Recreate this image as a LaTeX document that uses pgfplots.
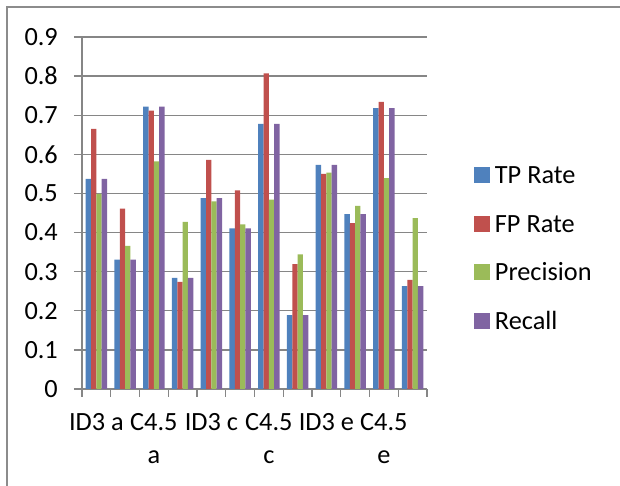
\documentclass[border=0pt]{standalone}
\usepackage{fontspec}
\setmainfont{Carlito}
\usepackage{pgfplots}
\pgfplotsset{compat=1.18}
\usepackage{pgfplotstable}
\definecolor{cTP}{HTML}{4F81BD}
\definecolor{cFP}{HTML}{C0504D}
\definecolor{cPR}{HTML}{9BBB59}
\definecolor{cRC}{HTML}{8064A2}
\definecolor{gridgray}{RGB}{134,134,134}
\definecolor{framegray}{RGB}{140,140,140}
\pgfplotsset{sqlegend/.style={legend image code/.code={\fill[##1] (0bp,-8bp) rectangle (16bp,8bp);}}}
\pgfplotstableread{
g tp fp pr rc
0 0.537 0.665 0.499 0.537
1 0.331 0.461 0.366 0.331
2 0.722 0.712 0.582 0.722
3 0.284 0.274 0.427 0.284
4 0.488 0.586 0.480 0.488
5 0.411 0.508 0.421 0.411
6 0.678 0.807 0.484 0.678
7 0.189 0.319 0.344 0.189
8 0.573 0.550 0.553 0.573
9 0.447 0.424 0.468 0.447
10 0.718 0.734 0.539 0.718
11 0.263 0.279 0.437 0.263
}\datatable
\begin{document}
\fontsize{26.3bp}{33bp}\selectfont
\begin{tikzpicture}
\useasboundingbox (0bp,0bp) rectangle (620bp,486bp);
\draw[framegray, line width=1.3bp] (7bp,0bp) -- (7bp,479bp) -- (620bp,479bp);
\begin{axis}[
  at={(82bp,97bp)}, anchor=south west,
  width=345bp, height=352bp, scale only axis,
  ybar=0pt, bar width=5.33bp,
  xmin=-0.5, xmax=11.5, ymin=0, ymax=0.9,
  enlargelimits=false,
  axis lines*=left,
  axis line style={gridgray, line width=1.3bp, -},
  ymajorgrids=true,
  grid style={gridgray, line width=1.3bp},
  tick align=outside,
  major tick length=8bp,
  tick style={gridgray, line width=1.3bp},
  ytick={0,0.1,0.2,0.3,0.4,0.5,0.6,0.7,0.8,0.9},
  yticklabels={0,0.1,0.2,0.3,0.4,0.5,0.6,0.7,0.8,0.9},
  xtick={-0.5,0.5,1.5,2.5,3.5,4.5,5.5,6.5,7.5,8.5,9.5,10.5,11.5},
  xticklabels={},
  extra x ticks={0,2,4,6,8,10},
  extra x tick labels={ID3 a,C4.5\\a,ID3 c,C4.5\\c,ID3 e,C4.5\\e},
  extra x tick style={major tick length=0bp, grid=none},
  xticklabel style={align=center, anchor=north, inner sep=0pt, yshift=-24bp},
  yticklabel style={anchor=east, inner sep=0pt, xshift=-16bp},
  legend cell align=left,
  legend style={draw=none, fill=none, inner sep=0pt, outer sep=0pt,
    at={(axis description cs:1.136,0.401)}, anchor=west,
    row sep=31bp, column sep=5bp,
    nodes={inner sep=0pt, text height=17.5bp, text depth=0bp}},
]
\addplot[fill=cTP, draw=none, sqlegend] table[x=g, y=tp] {\datatable};
\addplot[fill=cFP, draw=none, sqlegend] table[x=g, y=fp] {\datatable};
\addplot[fill=cPR, draw=none, sqlegend] table[x=g, y=pr] {\datatable};
\addplot[fill=cRC, draw=none, sqlegend] table[x=g, y=rc] {\datatable};
\legend{TP Rate, FP Rate, Precision, Recall}
\end{axis}
\end{tikzpicture}
\end{document}
